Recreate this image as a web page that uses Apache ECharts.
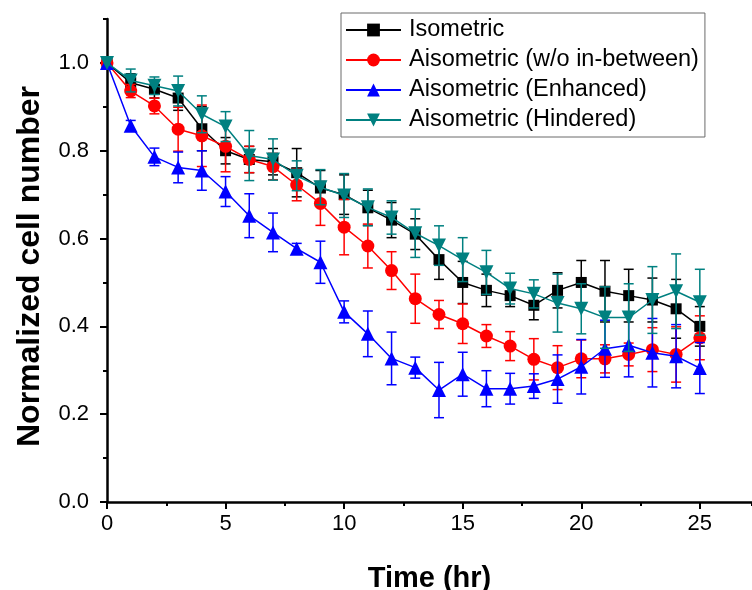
<!DOCTYPE html>
<html>
<head>
<meta charset="utf-8">
<script src="https://cdn.jsdelivr.net/npm/echarts@6/dist/echarts.min.js"></script>
<style>html,body{margin:0;padding:0;background:#fff}#c{width:752px;height:590px}</style>
</head>
<body>
<div id="c"></div>
<script>
var times = [0,1,2,3,4,5,6,7,8,9,10,11,12,13,14,15,16,17,18,19,20,21,22,23,24,25];
var seriesNames = ['Isometric','Aisometric (w/o in-between)','Aisometric (Enhanced)','Aisometric (Hindered)'];

var isoVals = [1.0,0.955,0.94,0.92,0.85,0.80,0.78,0.775,0.75,0.715,0.70,0.67,0.642,0.61,0.552,0.50,0.482,0.47,0.448,0.482,0.50,0.48,0.47,0.46,0.44,0.40];
var isoErr  = [0,0.02,0.02,0.028,0.05,0.03,0.03,0.03,0.055,0.04,0.045,0.04,0.04,0.035,0.045,0.048,0.037,0.025,0.033,0.04,0.05,0.07,0.06,0.05,0.067,0.045];

var woVals = [1.0,0.936,0.902,0.849,0.834,0.81,0.78,0.764,0.722,0.68,0.626,0.583,0.527,0.463,0.427,0.406,0.378,0.355,0.325,0.306,0.326,0.326,0.336,0.347,0.336,0.374];
var woErr  = [0,0.015,0.018,0.05,0.07,0.058,0.03,0.03,0.036,0.05,0.063,0.05,0.043,0.056,0.032,0.045,0.026,0.033,0.047,0.05,0.043,0.032,0.026,0.05,0.063,0.05];

var enhVals = [1.0,0.857,0.786,0.762,0.755,0.707,0.652,0.614,0.577,0.546,0.433,0.383,0.327,0.306,0.255,0.291,0.258,0.258,0.264,0.28,0.308,0.349,0.357,0.34,0.332,0.305];
var enhErr  = [0,0.012,0.02,0.035,0.045,0.034,0.05,0.044,0.012,0.048,0.025,0.052,0.06,0.024,0.063,0.05,0.041,0.035,0.028,0.055,0.062,0.065,0.072,0.078,0.072,0.058];

var hinVals = [1.0,0.96,0.948,0.936,0.883,0.855,0.789,0.78,0.743,0.717,0.698,0.671,0.648,0.612,0.584,0.552,0.523,0.486,0.474,0.453,0.44,0.42,0.42,0.46,0.48,0.455];
var hinErr  = [0,0.026,0.02,0.034,0.042,0.034,0.057,0.047,0.034,0.04,0.05,0.042,0.038,0.055,0.045,0.05,0.05,0.035,0.032,0.066,0.057,0.07,0.077,0.076,0.085,0.075];

var yTickLabels = ['0.0','0.2','0.4','0.6','0.8','1.0'];
var xTickLabels = ['0','5','10','15','20','25'];

var colors = ['#000000','#ff0000','#0000ff','#008080'];
var symbols = ['rect','circle','triangle','triangle'];
var symbolSizes = [11,13,14,14];
var symbolRot = [0,0,0,180];
var allVals = [isoVals, woVals, enhVals, hinVals];
var allErr = [isoErr, woErr, enhErr, hinErr];

var FONT = '"Liberation Sans", Arial, sans-serif';

function errSeries(idx){
  var color = colors[idx];
  return {
    type: 'custom',
    name: 'err' + idx,
    silent: true,
    z: 2 + idx * 2,
    xAxisIndex: 0, yAxisIndex: 0,
    encode: {x: 0, y: 1},
    data: times.map(function(t, i){ return [t, allVals[idx][i], allErr[idx][i]]; }),
    renderItem: function(params, api){
      var x = api.value(0), y = api.value(1), e = api.value(2);
      if (!e) return null;
      var top = api.coord([x, y + e]);
      var bot = api.coord([x, y - e]);
      var hw = 5;
      var st = {stroke: color, lineWidth: 1.5};
      return {type: 'group', children: [
        {type: 'line', shape: {x1: top[0], y1: top[1], x2: bot[0], y2: bot[1]}, style: st},
        {type: 'line', shape: {x1: top[0]-hw, y1: top[1], x2: top[0]+hw, y2: top[1]}, style: st},
        {type: 'line', shape: {x1: bot[0]-hw, y1: bot[1], x2: bot[0]+hw, y2: bot[1]}, style: st}
      ]};
    }
  };
}

var series = [];
for (var i = 0; i < 4; i++) {
  series.push(errSeries(i));
  series.push({
    type: 'line',
    name: seriesNames[i],
    z: 3 + i * 2,
    xAxisIndex: 0, yAxisIndex: 0,
    data: times.map(function(t, k){ return [t, allVals[i][k]]; }),
    symbol: symbols[i],
    symbolSize: symbolSizes[i],
    symbolRotate: symbolRot[i],
    showAllSymbol: true,
    lineStyle: {color: colors[i], width: 1.5},
    itemStyle: {color: colors[i]},
    emphasis: {disabled: true},
    animation: false
  });
}

var chart = echarts.init(document.getElementById('c'), null, {renderer: 'canvas'});
chart.setOption({
  animation: false,
  backgroundColor: '#ffffff',
  grid: {left: 107, top: 19, bottom: 88, right: 0, containLabel: false, outerBoundsMode: 'none'},
  legend: {
    orient: 'vertical',
    left: 341, top: 13,
    data: seriesNames,
    itemWidth: 55, itemHeight: 16, itemGap: 6,
    padding: [5, 6, 5, 4],
    borderColor: '#6a6a6a', borderWidth: 1,
    backgroundColor: '#ffffff',
    textStyle: {fontSize: 23.5, fontFamily: FONT, color: '#000', padding: [0, 0, 0, 3]},
    selectedMode: false
  },
  xAxis: [{
    type: 'value', min: 0, max: 27.2, interval: 5,
    name: 'Time (hr)', nameLocation: 'middle', nameGap: 62,
    nameTextStyle: {fontSize: 29, fontWeight: 'bold', fontFamily: FONT, color: '#000'},
    axisLine: {show: true, onZero: false, lineStyle: {color: '#000', width: 2.5}},
    axisTick: {show: true, inside: false, length: 7, lineStyle: {color: '#000', width: 2}},
    axisLabel: {fontSize: 22, fontFamily: FONT, color: '#000', margin: 11, showMaxLabel: false,
      formatter: function(v){ var k = xTickLabels.indexOf(String(v)); return k >= 0 ? xTickLabels[k] : ''; }},
    splitLine: {show: false}
  }, {
    type: 'value', min: 0, max: 27.2, interval: 2.5,
    position: 'bottom', offset: 0,
    axisLine: {show: false},
    axisTick: {show: true, inside: false, length: 4, lineStyle: {color: '#000', width: 2}},
    axisLabel: {show: false},
    splitLine: {show: false}
  }],
  yAxis: [{
    type: 'value', min: 0, max: 1.1, interval: 0.1,
    position: 'left',
    name: 'Normalized cell number', nameLocation: 'middle', nameGap: 61,
    nameTextStyle: {fontSize: 32, fontWeight: 'bold', fontFamily: FONT, color: '#000', padding: [0, 12, 0, 0]},
    axisLine: {show: true, onZero: false, lineStyle: {color: '#000', width: 2.5}},
    axisTick: {show: true, inside: false, length: 4, lineStyle: {color: '#000', width: 2}},
    axisLabel: {show: false},
    splitLine: {show: false}
  }, {
    type: 'value', min: 0, max: 1.1, interval: 0.2,
    position: 'left', offset: 0,
    axisLine: {show: false},
    axisTick: {show: true, inside: false, length: 7, lineStyle: {color: '#000', width: 2}},
    axisLabel: {fontSize: 22, fontFamily: FONT, color: '#000', margin: 18, showMaxLabel: false,
      formatter: function(v){ var k = Math.round(v * 5); return (k >= 0 && k < yTickLabels.length && Math.abs(v*5-k) < 1e-6) ? yTickLabels[k] : ''; }},
    splitLine: {show: false}
  }],
  series: series
});
</script>
</body>
</html>
